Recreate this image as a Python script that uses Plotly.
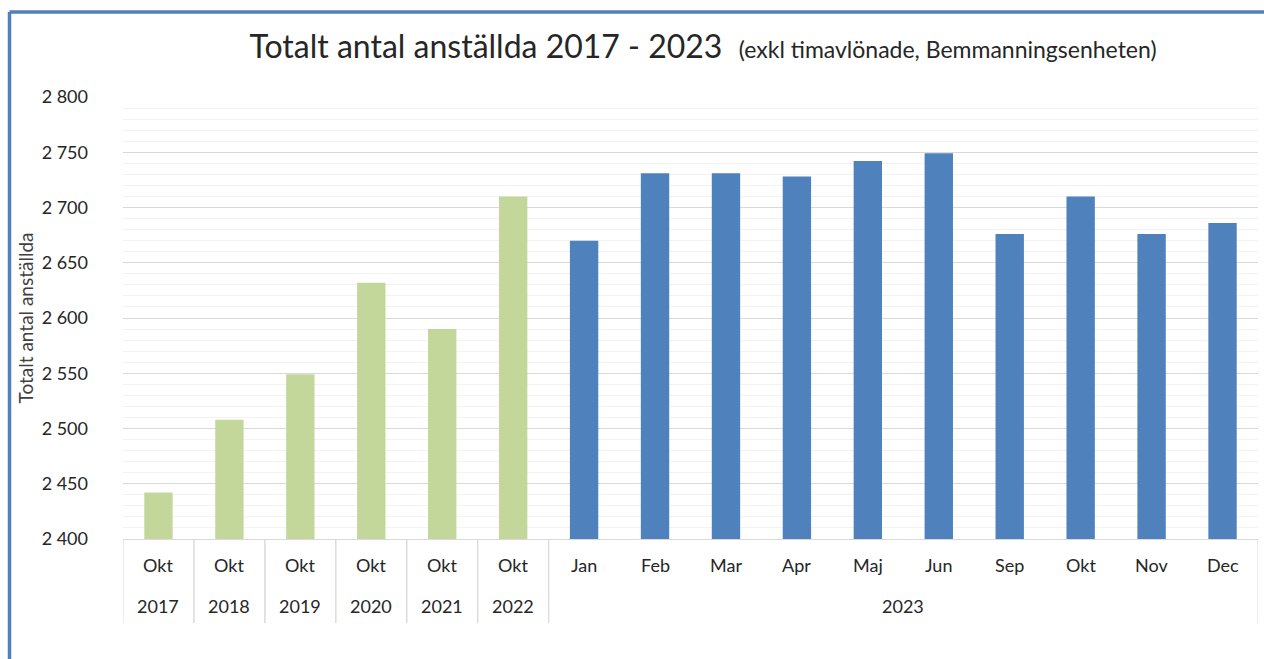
import plotly.graph_objects as go

# ---- data ----
years = ["2017", "2018", "2019", "2020", "2021", "2022",
         "2023", "2023", "2023", "2023", "2023", "2023", "2023", "2023", "2023", "2023"]
months = ["Okt", "Okt", "Okt", "Okt", "Okt", "Okt",
          "Jan", "Feb", "Mar", "Apr", "Maj", "Jun", "Sep", "Okt", "Nov", "Dec"]
employees = [2442, 2508, 2549, 2632, 2590, 2710,
             2670, 2731, 2731, 2728, 2742, 2749, 2676, 2710, 2676, 2686]

GREEN = "#C4D79B"
BLUE = "#4F81BD"
colors = [BLUE if y == "2023" else GREEN for y in years]
cats = [f"{m} {y}" for m, y in zip(months, years)]

FONT = "Lato, Carlito, sans-serif"
TXT = "#262626"

W, H = 1264, 659
L, R, T, B = 123, 6, 97, 120
PH = H - T - B
PW = W - L - R

fig = go.Figure(go.Bar(
    x=cats,
    y=employees,
    marker=dict(color=colors, line=dict(width=0)),
    width=0.4,
))

annotations = []
# month row
for c, m in zip(cats, months):
    annotations.append(dict(x=c, y=0, xref="x", yref="paper", text=m, showarrow=False,
                            yanchor="middle", yshift=-26,
                            font=dict(family=FONT, size=18, color=TXT)))
# year row (group centres) and dividers
groups = []
for i, y in enumerate(years):
    if groups and groups[-1][0] == y:
        groups[-1][2] = i
    else:
        groups.append([y, i, i])
shapes = []
for y, i0, i1 in groups:
    annotations.append(dict(x=(i0 + i1) / 2, y=0, xref="x", yref="paper", text=y, showarrow=False,
                            yanchor="middle", yshift=-67,
                            font=dict(family=FONT, size=18, color=TXT)))
    for xb in (i0 - 0.5, i1 + 0.5):
        shapes.append(dict(type="line", xref="x", yref="paper", x0=xb, x1=xb,
                           y0=0, y1=-84 / PH, line=dict(color="#d9d9d9", width=1)))

# frame (blue border, top and left)
fx = (9.5 - L) / PW
fy = 1 + (T - 12) / PH
shapes.append(dict(type="line", xref="paper", yref="paper", x0=fx, x1=1 + 10 / PW, y0=fy, y1=fy,
                   line=dict(color=BLUE, width=3.5), layer="above"))
shapes.append(dict(type="line", xref="paper", yref="paper", x0=fx, x1=fx, y0=-B / PH - 0.05, y1=fy,
                   line=dict(color=BLUE, width=3.5), layer="above"))

fig.update_layout(
    width=W, height=H,
    margin=dict(l=L, r=R, t=T, b=B),
    paper_bgcolor="white", plot_bgcolor="white",
    separators=", ",
    showlegend=False,
    font=dict(family=FONT, size=18, color=TXT),
    title=dict(
        text="Totalt antal anställda 2017 - 2023  <span style='font-size:23px'>(exkl timavlönade, Bemmanningsenheten)</span>",
        font=dict(family=FONT, size=32, color=TXT),
        x=703 / W, xanchor="center", xref="container",
        y=1 - 47 / H, yanchor="middle", yref="container",
    ),
    xaxis=dict(
        type="category",
        range=[-0.5, len(cats) - 0.5],
        showgrid=False,
        showline=True, linecolor="#d9d9d9", linewidth=1,
        ticks="",
        showticklabels=False,
    ),
    yaxis=dict(
        range=[2400, 2800],
        dtick=50,
        tickformat=",d",
        showgrid=True, gridcolor="#d9d9d9", gridwidth=1,
        minor=dict(dtick=10, showgrid=True, gridcolor="#f2f2f2", gridwidth=1),
        zeroline=False,
        showline=False,
        ticks="",
        ticklabelstandoff=34,
        tickfont=dict(family=FONT, size=18, color=TXT),
        title=dict(text="Totalt antal anställda",
                   font=dict(family=FONT, size=19, color="#404040"),
                   standoff=2),
    ),
    annotations=annotations,
    shapes=shapes,
)

fig.write_html("out.html", config={"displayModeBar": False},
               post_script="document.body.style.margin='0';document.body.style.overflow='hidden';")
